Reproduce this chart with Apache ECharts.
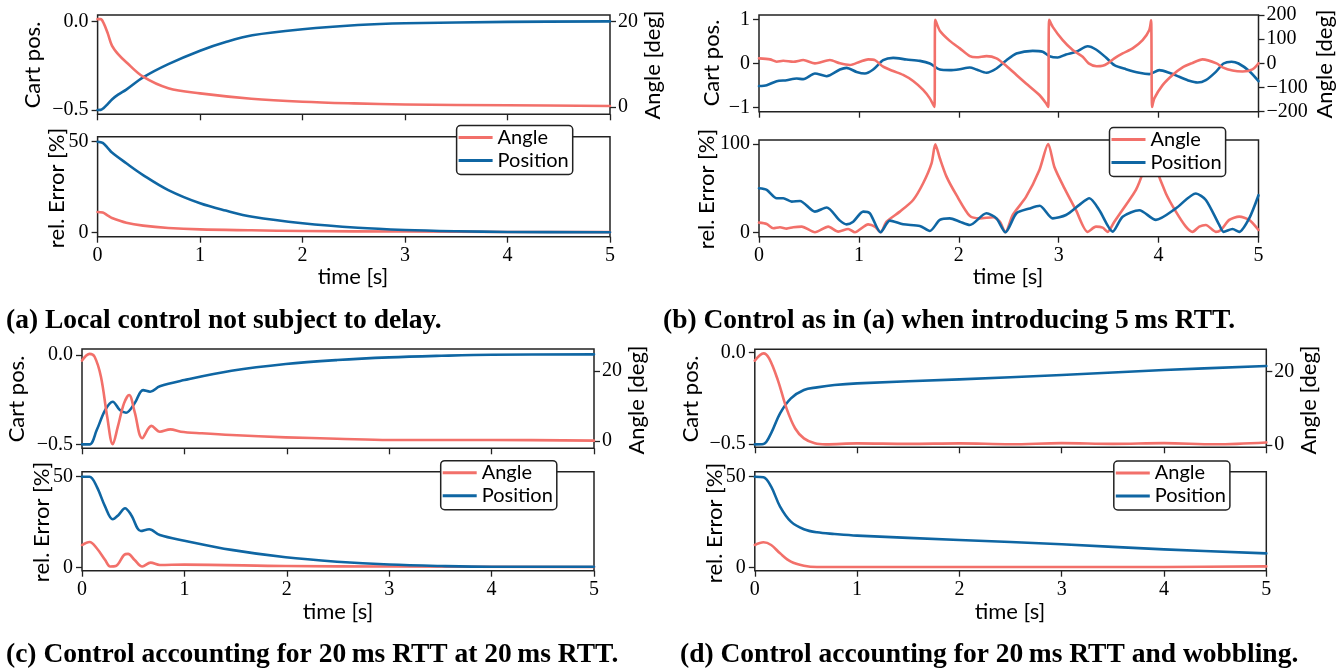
<!DOCTYPE html>
<html><head><meta charset="utf-8">
<script src="https://cdn.jsdelivr.net/npm/echarts@6/dist/echarts.min.js"></script>
<style>html,body{margin:0;padding:0;background:#fff}#c{width:1343px;height:671px}</style>
</head><body><div id="c"></div>
<script>
// ---------- DATA (time [s], value) ----------
const xTicks = [0, 1, 2, 3, 4, 5];

// (a) Local control not subject to delay
const aPos = [[0,-0.5],[0.03,-0.499],[0.06,-0.488],[0.1,-0.465],[0.14,-0.44],[0.2,-0.413],[0.28,-0.384],[0.444,-0.315],[0.69,-0.24],[1.0,-0.164],[1.25,-0.115],[1.51,-0.077],[2.0,-0.043],[2.54,-0.019],[3.0,-0.009],[4.0,-0.001],[5.0,0.002]];
const aAngle = [[0,20.6],[0.03,20.6],[0.06,19.6],[0.1,17.2],[0.14,14.4],[0.2,12.4],[0.28,10.5],[0.444,7.1],[0.69,4.4],[1.0,3.2],[1.5,1.95],[2.0,1.24],[2.5,0.85],[3.0,0.6],[4.0,0.4],[5.0,0.25]];
const aErrPos = [[0,50],[0.05,49.3],[0.1,46.5],[0.14,44.0],[0.28,38.1],[0.444,31.6],[0.69,23.3],[1.0,16],[1.25,12],[1.51,8.6],[2.0,5],[2.54,2.5],[3.0,1.3],[3.5,0.6],[4.0,0.2],[5.0,0.05]];
const aErrAngle = [[0,11.2],[0.05,10.9],[0.1,9.2],[0.14,7.9],[0.28,5.3],[0.444,3.7],[0.69,2.4],[1.0,1.6],[1.5,1.1],[2.0,0.7],[3.0,0.4],[4.0,0.2],[5.0,0.1]];

// (b) Control as in (a) when introducing 5 ms RTT
const bPos = [[0,-0.51],[0.077,-0.49],[0.177,-0.40],[0.277,-0.377],[0.377,-0.34],[0.443,-0.354],[0.56,-0.226],[0.677,-0.287],[0.81,-0.136],[0.877,-0.098],[0.977,-0.19],[1.06,-0.226],[1.143,-0.136],[1.243,0.075],[1.343,0.128],[1.477,0.09],[1.61,0.06],[1.71,0],[1.81,-0.136],[1.91,-0.15],[2.01,-0.128],[2.11,-0.09],[2.177,-0.136],[2.277,-0.21],[2.377,-0.113],[2.477,0.075],[2.577,0.226],[2.74,0.286],[2.84,0.264],[2.907,0.166],[2.99,0.136],[3.073,0.204],[3.173,0.264],[3.29,0.39],[3.373,0.317],[3.473,0.136],[3.557,-0.038],[3.673,-0.128],[3.807,-0.21],[3.907,-0.24],[4.007,-0.15],[4.107,-0.21],[4.207,-0.30],[4.307,-0.39],[4.39,-0.43],[4.473,-0.377],[4.573,-0.19],[4.65,0],[4.73,0.04],[4.8,0],[4.907,-0.17],[5.0,-0.40]];
const bAngle = [[0,20.7],[0.11,16.5],[0.177,6.9],[0.243,10.7],[0.343,6.6],[0.443,13.6],[0.56,0],[0.71,13.6],[0.81,0],[0.91,-7],[1.01,6.6],[1.093,16.5],[1.16,13.6],[1.243,-14],[1.343,-31.8],[1.443,-48],[1.543,-73],[1.643,-110],[1.71,-145],[1.755,-180],[1.765,180],[1.81,135],[1.91,93],[2.01,62],[2.11,30],[2.177,25],[2.277,30],[2.377,20.7],[2.477,-11],[2.577,-48],[2.673,-83],[2.807,-131],[2.873,-165],[2.895,-180],[2.905,180],[2.94,151],[3.04,96],[3.14,55],[3.24,27.5],[3.3,0],[3.38,-12],[3.44,-10],[3.49,0],[3.557,20.7],[3.64,41],[3.74,62],[3.84,96],[3.907,138],[3.925,178],[3.935,-180],[3.957,-145],[4.04,-90],[4.14,-48],[4.24,-16.5],[4.33,0],[4.44,16.5],[4.58,0],[4.64,-16.5],[4.74,-30],[4.84,-34],[4.94,-25],[5.0,0]];
const bErrPos = [[0,49.8],[0.077,48],[0.177,38.5],[0.243,38.5],[0.327,34.7],[0.41,35.5],[0.56,23.4],[0.677,28],[0.81,13.2],[0.877,9],[0.943,12],[1.043,23.4],[1.11,21.5],[1.217,0],[1.31,13.2],[1.443,9],[1.61,7.2],[1.71,1.5],[1.81,14],[1.91,15.8],[2.01,12],[2.11,8.3],[2.277,21.5],[2.377,15.8],[2.467,0],[2.577,21.5],[2.71,27],[2.81,30],[2.94,15.8],[3.073,19.6],[3.207,31],[3.307,38.5],[3.407,25],[3.54,0.8],[3.64,17.7],[3.807,25],[3.973,14],[4.173,27],[4.373,44],[4.473,36.6],[4.607,8.3],[4.65,0.5],[4.74,3.8],[4.807,0.5],[4.907,15.8],[5.0,42]];
const bErrAngle = [[0,10.9],[0.077,9.4],[0.143,4.5],[0.21,5.7],[0.277,4.2],[0.343,5.7],[0.427,6.4],[0.56,0],[0.693,6.4],[0.793,0.8],[0.893,3.8],[0.96,0],[1.093,9],[1.16,6.4],[1.217,0],[1.277,12],[1.41,23.4],[1.543,36.6],[1.643,55.5],[1.727,78],[1.765,99.5],[1.81,83.8],[1.877,63],[1.977,42],[2.11,18.5],[2.21,15.8],[2.343,17],[2.41,12],[2.467,0],[2.54,19.6],[2.673,40],[2.807,70.6],[2.895,100],[2.957,74],[3.057,50],[3.173,25],[3.29,0.5],[3.373,6.4],[3.44,5.3],[3.49,0.5],[3.557,12],[3.673,31],[3.773,48],[3.84,67],[3.925,100],[3.973,74],[4.073,44],[4.173,23.4],[4.273,6.4],[4.34,0.5],[4.407,6.4],[4.473,8.3],[4.573,0.5],[4.623,2.6],[4.707,14],[4.807,17.7],[4.907,14],[5.0,2.6]];

// (c) Control accounting for 20 ms RTT at 20 ms RTT
const cPos = [[0,-0.5],[0.074,-0.5],[0.144,-0.42],[0.226,-0.308],[0.3,-0.261],[0.37,-0.308],[0.43,-0.323],[0.514,-0.27],[0.596,-0.196],[0.666,-0.205],[0.76,-0.174],[1.0,-0.14],[1.46,-0.088],[1.99,-0.05],[2.49,-0.028],[3.0,-0.013],[3.51,-0.004],[4.0,0.002],[5.0,0.004]];
const cAngle = [[0,22.9],[0.074,24.8],[0.123,24],[0.185,18.3],[0.246,6.9],[0.3,-0.9],[0.35,4.1],[0.41,10.7],[0.46,13.1],[0.514,8.3],[0.588,0.8],[0.678,4.3],[0.76,2.65],[0.863,3.3],[0.965,2.65],[1.17,2.2],[1.46,1.7],[1.99,1.04],[2.49,0.66],[3.0,0.28],[4.0,0.28],[5.0,0.1]];
const cErrPos = [[0,50],[0.074,50],[0.144,44.5],[0.226,33.5],[0.3,26.5],[0.357,28.9],[0.42,32.6],[0.48,28.9],[0.575,20],[0.657,21],[0.76,17.8],[1.0,14.7],[1.46,9.6],[1.99,5.5],[2.49,3.1],[3.0,1.5],[3.51,0.7],[4.0,0.3],[5.0,0.3]];
const cErrAngle = [[0,12.3],[0.074,14],[0.144,10.5],[0.226,4],[0.275,0.4],[0.33,0.7],[0.41,6.8],[0.45,7.4],[0.514,4],[0.588,0.4],[0.67,2.6],[0.76,1.3],[1.0,1.5],[1.99,0.7],[3.0,0.4],[5.0,0.2]];

// (d) Control accounting for 20 ms RTT and wobbling
const dPos = [[0,-0.502],[0.085,-0.5],[0.16,-0.44],[0.247,-0.332],[0.353,-0.25],[0.48,-0.204],[0.608,-0.19],[0.778,-0.177],[1.0,-0.168],[2.0,-0.146],[3.0,-0.122],[4.0,-0.095],[5.0,-0.073]];
const dAngle = [[0,23],[0.085,25],[0.14,23.6],[0.225,17.7],[0.31,10],[0.395,4.5],[0.48,1.8],[0.587,0.45],[0.693,0.18],[1.0,0.45],[1.5,0.3],[2.0,0.45],[2.5,0.2],[3.0,0.5],[3.5,0.3],[4.0,0.5],[4.5,0.2],[5.0,0.7]];
const dErrPos = [[0,50],[0.085,49.7],[0.16,44.5],[0.247,33.5],[0.353,25.2],[0.48,21],[0.608,19.3],[0.778,18.4],[1.0,17.5],[2.0,15.1],[3.0,12.7],[4.0,9.9],[5.0,7.7]];
const dErrAngle = [[0,12.3],[0.085,13.8],[0.16,12.3],[0.247,7.7],[0.353,3.1],[0.48,0.9],[0.608,0.2],[1.0,0.2],[2.0,0.2],[3.0,0.2],[4.0,0.2],[5.0,0.5]];

// tick labels
const posTicksA = [-0.5, 0.0];
const posTicksB = [-1, 0, 1];
const angTicksA = [0, 20];
const angTicksB = [-200, -100, 0, 100, 200];
const errTicksA = [0, 50];
const errTicksB = [0, 100];

const captions = [
  '(a) Local control not subject to delay.',
  '(b) Control as in (a) when introducing 5\u2009ms RTT.',
  '(c) Control accounting for 20\u2009ms RTT at 20\u2009ms RTT.',
  '(d) Control accounting for 20\u2009ms RTT and wobbling.'
];

// ---------- LAYOUT / STYLE ----------
const RED = '#f2706a', BLUE = '#0f66a3';
const SERIF = '"Liberation Serif", "DejaVu Serif", serif';
const SANS = 'Lato, "Open Sans", sans-serif';
const TICKFS = 20, TITLEFS = 22;

const panels = [
  { top:{left:97.6,top:15,width:512.4,height:99.3}, bot:{left:97.6,top:136.7,width:512.4,height:100},
    pos:aPos, ang:aAngle, ePos:aErrPos, eAng:aErrAngle,
    posR:[-0.524,0.038], posT:posTicksA, posDec:1, angR:[-1.71,21.57], angT:angTicksA, errR:[-2.43,52.76], errT:errTicksA,
    leg:{left:456.6,top:125.5}, smooth:0.35,
    tCart:[33,65], tAng:[653,65], tErr:[57,188], tTime:[353,277], cap:[6,321] },
  { top:{left:759,top:15,width:499.5,height:96.7}, bot:{left:759,top:140,width:499.5,height:96.7},
    pos:bPos, ang:bAngle, ePos:bErrPos, eAng:bErrAngle,
    posR:[-1.09,1.097], posT:posTicksB, posDec:0, angR:[-200,200], angT:angTicksB, errR:[-5,104.5], errT:errTicksB,
    leg:{left:1109.5,top:127.5}, smooth:0.25,
    tCart:[712,63], tAng:[1325,64], tErr:[707,189], tTime:[1008,277], cap:[663,321] },
  { top:{left:82,top:349,width:512,height:99.3}, bot:{left:82,top:471.7,width:512,height:99},
    pos:cPos, ang:cAngle, ePos:cErrPos, eAng:cErrAngle,
    posR:[-0.522,0.034], posT:posTicksA, posDec:1, angR:[-2.08,26.2], angT:angTicksA, errR:[-1.88,52.76], errT:errTicksA,
    leg:{left:440.7,top:460.7}, smooth:0.35,
    tCart:[17,399], tAng:[637,400], tErr:[42,522], tTime:[338,612], cap:[6,655] },
  { top:{left:754.8,top:349.3,width:511.5,height:98}, bot:{left:754.8,top:471.7,width:511.5,height:99},
    pos:dPos, ang:dAngle, ePos:dErrPos, eAng:dErrAngle,
    posR:[-0.518,0.0186], posT:posTicksA, posDec:1, angR:[-0.63,26.1], angT:angTicksA, errR:[-1.88,52.76], errT:errTicksA,
    leg:{left:1113.8,top:461}, smooth:0.35,
    tCart:[690.5,399], tAng:[1309,400], tErr:[714.5,523], tTime:[1010,612], cap:[680,655] }
];

function fmt(dec){ return v => { const s = Math.abs(v).toFixed(dec); return (v < -1e-9 ? '\u2212' : '') + s; }; }

const grid = [], xAxis = [], yAxis = [], series = [], legend = [], graphic = [];
const lbl = {fontFamily:SERIF, fontSize:TICKFS, color:'#000'};
const tick = {show:true, length:6, lineStyle:{color:'#222', width:1.3}};
const noLine = {show:false, onZero:false};

panels.forEach((p, i) => {
  [p.top, p.bot].forEach(g => grid.push(Object.assign({show:true, borderColor:'#222', borderWidth:1.5, backgroundColor:'transparent', containLabel:false}, g)));
  const gTop = 2*i, gBot = 2*i+1;
  [gTop, gBot].forEach((gi, k) => xAxis.push({
    type:'value', gridIndex:gi, position:'bottom', min:0, max:5, interval:1,
    axisLine:noLine, splitLine:{show:false},
    axisTick:Object.assign({}, tick, {customValues:xTicks}),
    axisLabel:Object.assign({show:k===1, margin:9, customValues:xTicks, formatter:v=>String(v)}, lbl)
  }));
  yAxis.push({ type:'value', gridIndex:gTop, position:'left', min:p.posR[0], max:p.posR[1],
    axisLine:noLine, splitLine:{show:false},
    axisTick:Object.assign({}, tick, {customValues:p.posT}),
    axisLabel:Object.assign({margin:9, customValues:p.posT, formatter:fmt(p.posDec)}, lbl) });
  yAxis.push({ type:'value', gridIndex:gTop, position:'right', min:p.angR[0], max:p.angR[1],
    axisLine:noLine, splitLine:{show:false},
    axisTick:Object.assign({}, tick, {customValues:p.angT}),
    axisLabel:Object.assign({margin:8, customValues:p.angT, formatter:fmt(0)}, lbl) });
  yAxis.push({ type:'value', gridIndex:gBot, position:'left', min:p.errR[0], max:p.errR[1],
    axisLine:noLine, splitLine:{show:false},
    axisTick:Object.assign({}, tick, {customValues:p.errT}),
    axisLabel:Object.assign({margin:9, customValues:p.errT, formatter:fmt(0)}, lbl) });
  const yl = 3*i;
  const mk = (name, data, xi, yi, color) => ({
    name, type:'line', data, xAxisIndex:xi, yAxisIndex:yi, showSymbol:false, symbol:'none',
    smooth:p.smooth, clip:true, animation:false, silent:true,
    lineStyle:{color, width:2.6, cap:'round', join:'round'}, itemStyle:{color}, z:2
  });
  series.push(mk('Position', p.pos, gTop, yl, BLUE));
  series.push(mk('Angle', p.ang, gTop, yl+1, RED));
  series.push(mk('Angle', p.eAng, gBot, yl+2, RED));
  series.push(mk('Position', p.ePos, gBot, yl+2, BLUE));
  legend.push({
    left:p.leg.left, top:p.leg.top, orient:'vertical', selectedMode:false,
    data:['Angle','Position'], icon:'rect', itemWidth:34, itemHeight:3, itemGap:1,
    padding:[1,4,3,2], backgroundColor:'#fff', borderColor:'#222', borderWidth:1.5, borderRadius:4,
    textStyle:{fontFamily:SANS, fontSize:20, color:'#000', lineHeight:22}, z:10
  });
  const txt = (s, xy, rot, fs, font, weight, align) => ({
    type:'text', x:xy[0], y:xy[1], rotation:rot, silent:true, z:100,
    style:{text:s, fontFamily:font, fontSize:fs, fontWeight:weight||'normal', fill:'#000',
      align:align||'center', verticalAlign:'middle', textAlign:align||'center', textVerticalAlign:'middle'}
  });
  graphic.push(txt('Cart pos.', p.tCart, Math.PI/2, TITLEFS, SANS));
  graphic.push(txt('Angle [deg]', p.tAng, Math.PI/2, TITLEFS, SANS));
  graphic.push(txt('rel. Error [%]', p.tErr, Math.PI/2, TITLEFS, SANS));
  graphic.push(txt('time [s]', p.tTime, 0, TITLEFS, SANS));
  graphic.push(txt(captions[i], p.cap, 0, 27.5, SERIF, 'bold', 'left'));
});

const chart = echarts.init(document.getElementById('c'), null, {renderer:'canvas'});
chart.setOption({ animation:false, backgroundColor:'#fff', grid, xAxis, yAxis, series, legend, graphic });
</script></body></html>
